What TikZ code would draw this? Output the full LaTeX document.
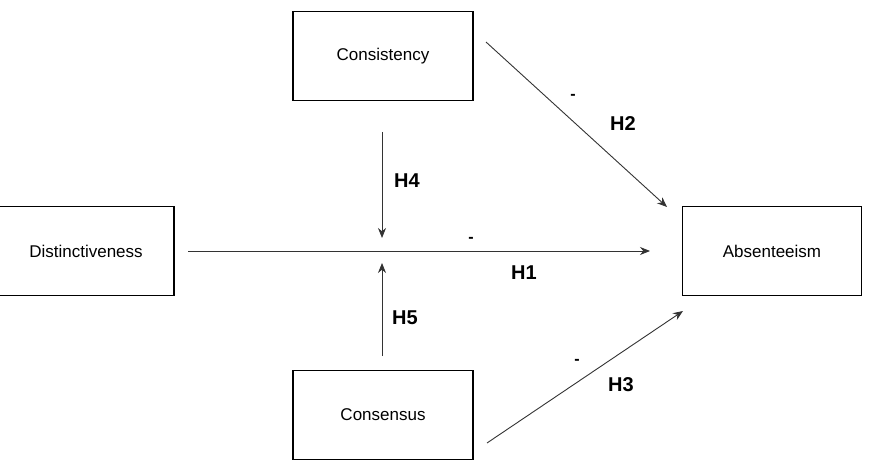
\documentclass[tikz,border=0pt]{standalone}
\usepackage{fontspec}
\setmainfont{Liberation Sans}
\usetikzlibrary{arrows.meta}
\begin{document}
\begin{tikzpicture}[x=1pt,y=-1pt,
  box/.style={draw=black,line width=1.3pt,minimum width=180pt,minimum height=89pt,inner sep=0pt,font=\fontsize{17}{19}\selectfont},
  conn/.style={draw=black!80,line width=0.9pt,-{Stealth[length=10pt,width=8pt]}},
  hlab/.style={font=\bfseries\fontsize{20}{22}\selectfont,inner sep=0pt},
  sign/.style={font=\bfseries\fontsize{16}{18}\selectfont,inner sep=0pt}]
\useasboundingbox (0,0) rectangle (871,468);
\node[box] (cons) at (383,56) {Consistency};
\node[box,minimum width=176pt] (dist) at (86,251) {Distinctiveness};
\node[box,minimum width=179pt] (abs) at (772,251) {Absenteeism};
\node[box] (cens) at (383,415) {Consensus};
\coordinate (h1s) at (188,251);
\coordinate (h1e) at (650,251);
\coordinate (h4s) at (382,132);
\coordinate (h4e) at (382,238);
\coordinate (h5s) at (382,356);
\coordinate (h5e) at (382,263);
\coordinate (h2s) at (486,42);
\coordinate (h2e) at (667,207);
\coordinate (h3s) at (487,443);
\coordinate (h3e) at (683,311);
\draw[conn] (h1s) -- (h1e);
\draw[conn] (h4s) -- (h4e);
\draw[conn] (h5s) -- (h5e);
\draw[conn] (h2s) -- (h2e);
\draw[conn] (h3s) -- (h3e);
\node[sign] (m1) at (471,240) {-};
\node[hlab] (l1) at (524,273) {H1};
\node[hlab] (l4) at (407,181) {H4};
\node[hlab] (l5) at (405,318) {H5};
\node[sign] (m2) at (573,97) {-};
\node[hlab] (l2) at (623,124) {H2};
\node[sign] (m3) at (577,362) {-};
\node[hlab] (l3) at (621,385) {H3};
\end{tikzpicture}
\end{document}
